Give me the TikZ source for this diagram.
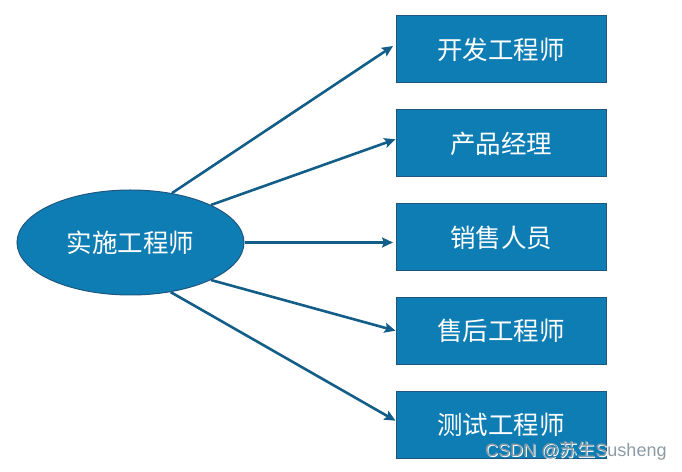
\documentclass[tikz,border=0pt]{standalone}
\usepackage{fontspec}
\setmainfont{Liberation Sans}
\newfontfamily\cjk{Noto Sans CJK SC}
\usetikzlibrary{arrows.meta,shapes.geometric}
\definecolor{boxfill}{HTML}{0E7DB4}
\definecolor{boxline}{HTML}{1F5680}
\definecolor{arrowcol}{HTML}{135E89}
\definecolor{wmgray}{HTML}{8C9BA6}
\tikzset{
  x=1pt,y=1pt,
  rolebox/.style={rectangle,draw=boxline,line width=1pt,fill=boxfill,minimum width=210pt,minimum height=67pt,inner sep=0pt,text=white,font=\cjk\fontsize{25.5}{30}\selectfont},
  rootell/.style={ellipse,draw=boxline,line width=1pt,fill=boxfill,minimum width=227pt,minimum height=105pt,inner sep=0pt,text=white,font=\cjk\fontsize{25.5}{30}\selectfont},
  link/.style={draw=arrowcol,line width=2.6pt,-{Stealth[length=11pt,width=10pt,inset=2pt]}}
}
\begin{document}
\begin{tikzpicture}
\useasboundingbox (0,0) rectangle (682,471);
\node[rootell] (e) at (130.5,228.5) {实施工程师};
\node[rolebox] (b1) at (501,421.5) {开发工程师};
\node[rolebox] (b2) at (501,327.5) {产品经理};
\node[rolebox] (b3) at (501,233.5) {销售人员};
\node[rolebox] (b4) at (501,140) {售后工程师};
\node[rolebox] (b5) at (501,46) {测试工程师};
\coordinate (t1) at (393,425);
\coordinate (t2) at (395.5,331.7);
\coordinate (t3) at (393,228.5);
\coordinate (t4) at (395.5,140.3);
\coordinate (t5) at (395.5,50.3);
\draw[link] (e.50.8) -- (t1);
\draw[link] (e.25.25) -- (t2);
\draw[link] (e.east) -- (t3);
\draw[link] (e.-25.8) -- (t4);
\draw[link] (e.-51.1) -- (t5);
\node[anchor=base west,inner sep=0pt,text=white,font=\fontsize{18}{21}\selectfont] (wms) at (486,13.3) {CSDN @{\cjk 苏生}Susheng};
\node[anchor=base west,inner sep=0pt,text=wmgray,font=\fontsize{18}{21}\selectfont] (wm) at (485,14.3) {CSDN @{\cjk 苏生}Susheng};
\end{tikzpicture}
\end{document}
